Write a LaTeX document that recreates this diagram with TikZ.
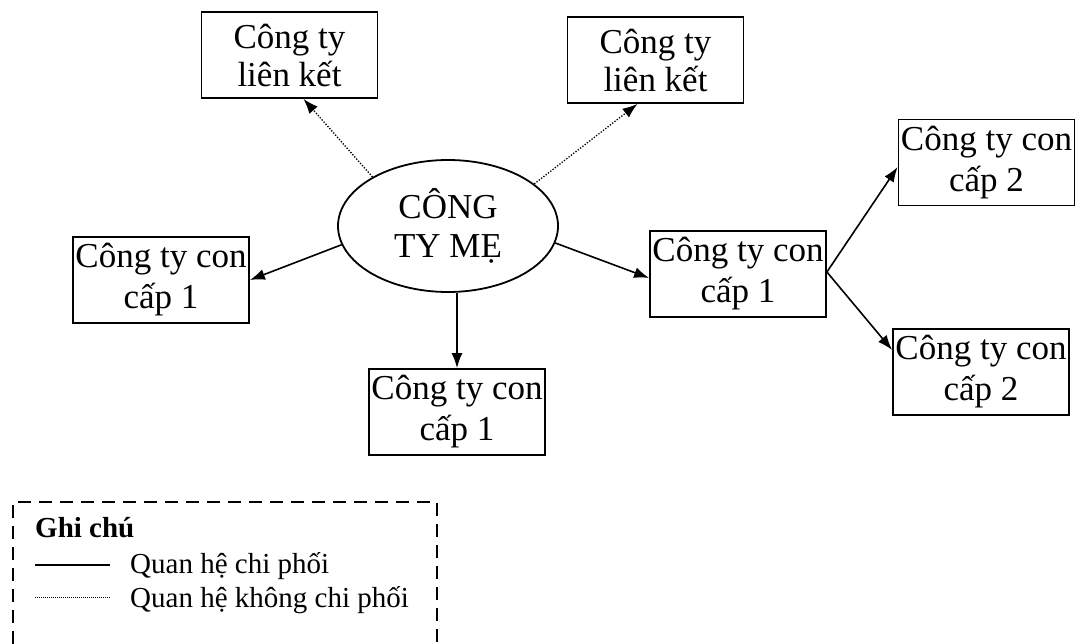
\documentclass[tikz,border=0pt]{standalone}
\usepackage{fontspec}
\setmainfont{Liberation Serif}
\usetikzlibrary{shapes.geometric,arrows.meta}

\begin{document}
\begin{tikzpicture}[x=1pt,y=-1pt,
  unit/.style={draw,line width=1.8pt,rectangle,minimum width=176pt,minimum height=86pt,
    inner sep=0pt,align=center,font=\fontsize{35}{41}\selectfont},
  partner/.style={unit,font=\fontsize{35}{38}\selectfont},
  mother/.style={draw,line width=1.8pt,ellipse,minimum width=220pt,minimum height=132pt,
    inner sep=0pt,align=center,font=\fontsize{35}{39}\selectfont},
  control/.style={line width=1.6pt,-{Latex[length=15pt,width=11pt]}},
  assoc/.style={line width=1.3pt,dash pattern=on 1.3pt off 1.6pt,-{Latex[length=15pt,width=11pt]}},
  legendtext/.style={anchor=base west,inner sep=0pt,font=\fontsize{29}{34}\selectfont}]
\useasboundingbox (0,0) rectangle (1079,644);

% cong ty me va cac cong ty
\node[mother] (me) at (448,226) {CÔNG\\TY MẸ};
\node[partner] (lk1) at (289.5,55) {Công ty\\liên kết};
\node[partner] (lk2) at (655.5,60) {Công ty\\liên kết};
\node[unit] (c1l) at (161,280) {Công ty con\\cấp 1};
\node[unit] (c1b) at (457,412) {Công ty con\\cấp 1};
\node[unit] (c1r) at (738,274) {Công ty con\\cấp 1};
\node[unit] (c2t) at (986.5,162.5) {Công ty con\\cấp 2};
\node[unit] (c2b) at (981,372) {Công ty con\\cấp 2};

% quan he
\draw[assoc] (me.147) -- ([xshift=14pt]lk1.south);
\draw[assoc] (me.26) -- ([xshift=-18pt]lk2.south);
\draw[control] (me.190) -- (c1l.east);
\draw[control] (c1b.north |- me.south) -- (c1b.north);
\draw[control] (me.351) -- ([yshift=-4pt]c1r.west);
\draw[control] ([yshift=2pt]c1r.east) -- ([yshift=-4.5pt]c2t.west);
\draw[control] ([yshift=2pt]c1r.east) -- ([yshift=22pt]c2b.west);

% ghi chu
\draw[line width=1.6pt,dash pattern=on 13pt off 8pt] (13,644) -- (13,502) -- (437,502) -- (437,644);
\node[legendtext,font=\fontsize{29}{34}\selectfont\bfseries] (note) at (35,537) {Ghi chú};
\node[legendtext] (solidlbl) at (130,573) {Quan hệ chi phối};
\node[legendtext] (dotlbl) at (130,607) {Quan hệ không chi phối};
\draw[line width=1.6pt] (35,565) -- (110,565);
\draw[line width=0.8pt,dash pattern=on 0.8pt off 1.2pt] (35,597) -- (110,597);
\end{tikzpicture}
\end{document}
